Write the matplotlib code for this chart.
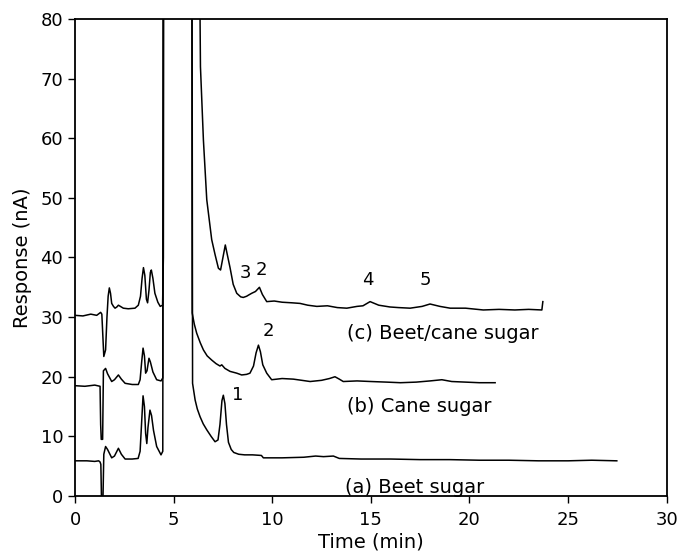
import matplotlib
matplotlib.use("Agg")
import matplotlib.pyplot as plt

# chromatogram traces: (time min, response nA)
# values of 100 stand for the off-scale sucrose peak (clipped at 80)
trace_a = [(0.0, 5.9), (0.6, 5.9), (1.0, 5.8), (1.2, 5.9), (1.27, 5.7), (1.31, 5.3),
           (1.34, 0.0), (1.42, 0.0), (1.46, 7.0), (1.55, 8.3), (1.65, 7.8), (1.86, 6.4),
           (2.0, 6.7), (2.2, 8.0), (2.35, 7.0), (2.54, 6.2), (2.9, 6.2), (3.2, 6.3),
           (3.3, 7.5), (3.38, 12.5), (3.45, 16.8), (3.52, 15.0), (3.58, 10.5), (3.64, 8.8),
           (3.7, 11.5), (3.8, 14.4), (3.88, 13.5), (3.98, 11.0), (4.14, 8.3), (4.36, 6.9),
           (4.45, 7.5), (4.48, 100), (5.93, 100), (5.96, 18.9), (6.09, 16.1), (6.2, 14.6),
           (6.34, 13.3), (6.5, 12.1), (6.68, 11.1), (6.9, 10.0), (7.1, 9.1), (7.25, 9.4),
           (7.35, 12.0), (7.45, 16.0), (7.52, 16.9), (7.6, 15.5), (7.68, 12.0), (7.78, 9.0),
           (7.92, 7.8), (8.05, 7.3), (8.3, 7.0), (8.6, 6.9), (9.0, 6.9), (9.45, 6.8),
           (9.55, 6.4), (10.5, 6.4), (11.6, 6.5), (12.2, 6.7), (12.6, 6.6), (13.1, 6.7),
           (13.4, 6.3), (14.5, 6.2), (16.0, 6.2), (17.5, 6.1), (19.0, 6.1), (20.5, 6.0),
           (22.0, 6.0), (23.5, 5.9), (25.0, 5.9), (26.2, 6.0), (27.47, 5.9)]

trace_b = [(0.0, 18.5), (0.5, 18.4), (1.0, 18.6), (1.27, 18.4), (1.3, 12.0), (1.33, 9.5),
           (1.4, 9.5), (1.44, 21.0), (1.55, 21.4), (1.65, 20.5), (1.86, 19.2), (2.0, 19.5),
           (2.2, 20.3), (2.35, 19.6), (2.54, 18.9), (2.9, 18.7), (3.21, 18.7), (3.3, 19.5),
           (3.38, 22.5), (3.45, 24.8), (3.52, 23.5), (3.58, 20.6), (3.65, 21.0), (3.75, 23.1),
           (3.82, 22.5), (3.95, 20.8), (4.14, 19.5), (4.36, 19.3), (4.45, 19.8), (4.48, 100),
           (5.92, 100), (5.94, 30.7), (6.05, 28.8), (6.17, 27.3), (6.35, 25.7), (6.51, 24.5),
           (6.7, 23.5), (6.93, 22.8), (7.15, 22.2), (7.35, 21.8), (7.44, 22.0), (7.6, 21.4),
           (7.86, 20.9), (8.2, 20.6), (8.45, 20.3), (8.7, 20.4), (8.87, 20.6), (9.05, 21.8),
           (9.18, 24.0), (9.3, 25.3), (9.4, 24.2), (9.52, 22.0), (9.72, 20.6), (9.97, 19.5),
           (10.5, 19.7), (11.07, 19.6), (11.5, 19.4), (11.92, 19.2), (12.5, 19.4), (12.9, 19.7),
           (13.18, 20.0), (13.4, 19.6), (13.6, 19.2), (14.3, 19.3), (15.0, 19.2), (15.8, 19.1),
           (16.5, 19.0), (17.3, 19.1), (18.0, 19.3), (18.6, 19.5), (19.1, 19.2), (19.8, 19.1),
           (20.5, 19.0), (21.3, 19.0)]

trace_c = [(0.0, 30.3), (0.4, 30.2), (0.8, 30.5), (1.1, 30.3), (1.3, 30.8), (1.36, 30.5),
           (1.46, 23.4), (1.55, 24.5), (1.62, 30.0), (1.68, 33.5), (1.74, 34.9), (1.8, 34.0),
           (1.86, 32.3), (1.95, 31.8), (2.03, 31.5), (2.12, 31.7), (2.2, 32.0), (2.3, 31.8),
           (2.45, 31.5), (2.7, 31.4), (3.04, 31.5), (3.21, 32.0), (3.32, 33.5), (3.4, 36.5),
           (3.47, 38.3), (3.54, 37.0), (3.62, 33.0), (3.68, 32.4), (3.75, 34.5), (3.82, 37.5),
           (3.87, 37.9), (3.95, 36.5), (4.05, 34.0), (4.2, 32.5), (4.32, 31.8), (4.44, 32.0),
           (4.48, 40.0), (4.5, 100), (6.32, 100), (6.34, 80), (6.36, 72), (6.51, 59.7),
           (6.68, 49.7), (6.93, 43.0), (7.1, 40.5), (7.27, 38.2), (7.38, 37.9), (7.5, 40.0),
           (7.62, 42.1), (7.72, 40.5), (7.86, 38.3), (8.02, 35.5), (8.2, 34.0), (8.4, 33.4),
           (8.53, 33.3), (8.7, 33.5), (8.8, 33.7), (8.96, 34.0), (9.15, 34.3), (9.35, 35.0),
           (9.5, 33.8), (9.72, 32.6), (10.1, 32.7), (10.5, 32.5), (11.0, 32.4), (11.41, 32.3),
           (11.8, 32.0), (12.26, 31.8), (12.8, 31.9), (13.3, 31.6), (13.78, 31.5), (14.3, 31.8),
           (14.6, 31.9), (14.96, 32.6), (15.4, 32.0), (15.97, 31.7), (16.4, 31.6), (16.99, 31.5),
           (17.6, 31.8), (18.0, 32.2), (18.5, 31.8), (19.02, 31.5), (19.8, 31.5), (20.7, 31.2),
           (21.5, 31.3), (22.3, 31.2), (23.0, 31.3), (23.67, 31.2), (23.72, 32.6)]

peak_labels = ["1", "2", "3", "2", "4", "5"]
trace_names = ["(a) Beet sugar", "(b) Cane sugar", "(c) Beet/cane sugar"]

x_ticks = [0, 5, 10, 15, 20, 25, 30]
y_ticks = [0, 10, 20, 30, 40, 50, 60, 70, 80]

fig = plt.figure(figsize=(6.77, 5.54), dpi=100)
ax = fig.add_axes([0.1108, 0.1047, 0.874, 0.861])

for tr in (trace_a, trace_b, trace_c):
    t, r = zip(*tr)
    ax.plot(t, r, color="black", lw=1.1, solid_joinstyle="round")

ax.set_xlim(0, 30); ax.set_ylim(0, 80)
ax.set_xticks(x_ticks); ax.set_yticks(y_ticks)
ax.tick_params(direction="out", length=5, width=1, labelsize=13, colors="black")
ax.tick_params(axis="x", pad=6)
for s in ax.spines.values():
    s.set_linewidth(1.3)

ax.set_xlabel("Time (min)", fontsize=14, labelpad=2)
ax.set_ylabel("Response (nA)", fontsize=14, labelpad=6)

fs = 13
ax.text(8.23, 16.9, peak_labels[0], fontsize=fs, ha="center", va="center")
ax.text(9.8, 27.6, peak_labels[1], fontsize=fs, ha="center", va="center")
ax.text(8.62, 37.4, peak_labels[2], fontsize=fs, ha="center", va="center")
ax.text(9.47, 37.9, peak_labels[3], fontsize=fs, ha="center", va="center")
ax.text(14.87, 36.2, peak_labels[4], fontsize=fs, ha="center", va="center")
ax.text(17.75, 36.2, peak_labels[5], fontsize=fs, ha="center", va="center")

ax.text(13.7, 1.35, trace_names[0], fontsize=14, ha="left", va="center")
ax.text(13.78, 15.0, trace_names[1], fontsize=14, ha="left", va="center")
ax.text(13.78, 27.3, trace_names[2], fontsize=14, ha="left", va="center")

fig.savefig("out.png", dpi=100)
